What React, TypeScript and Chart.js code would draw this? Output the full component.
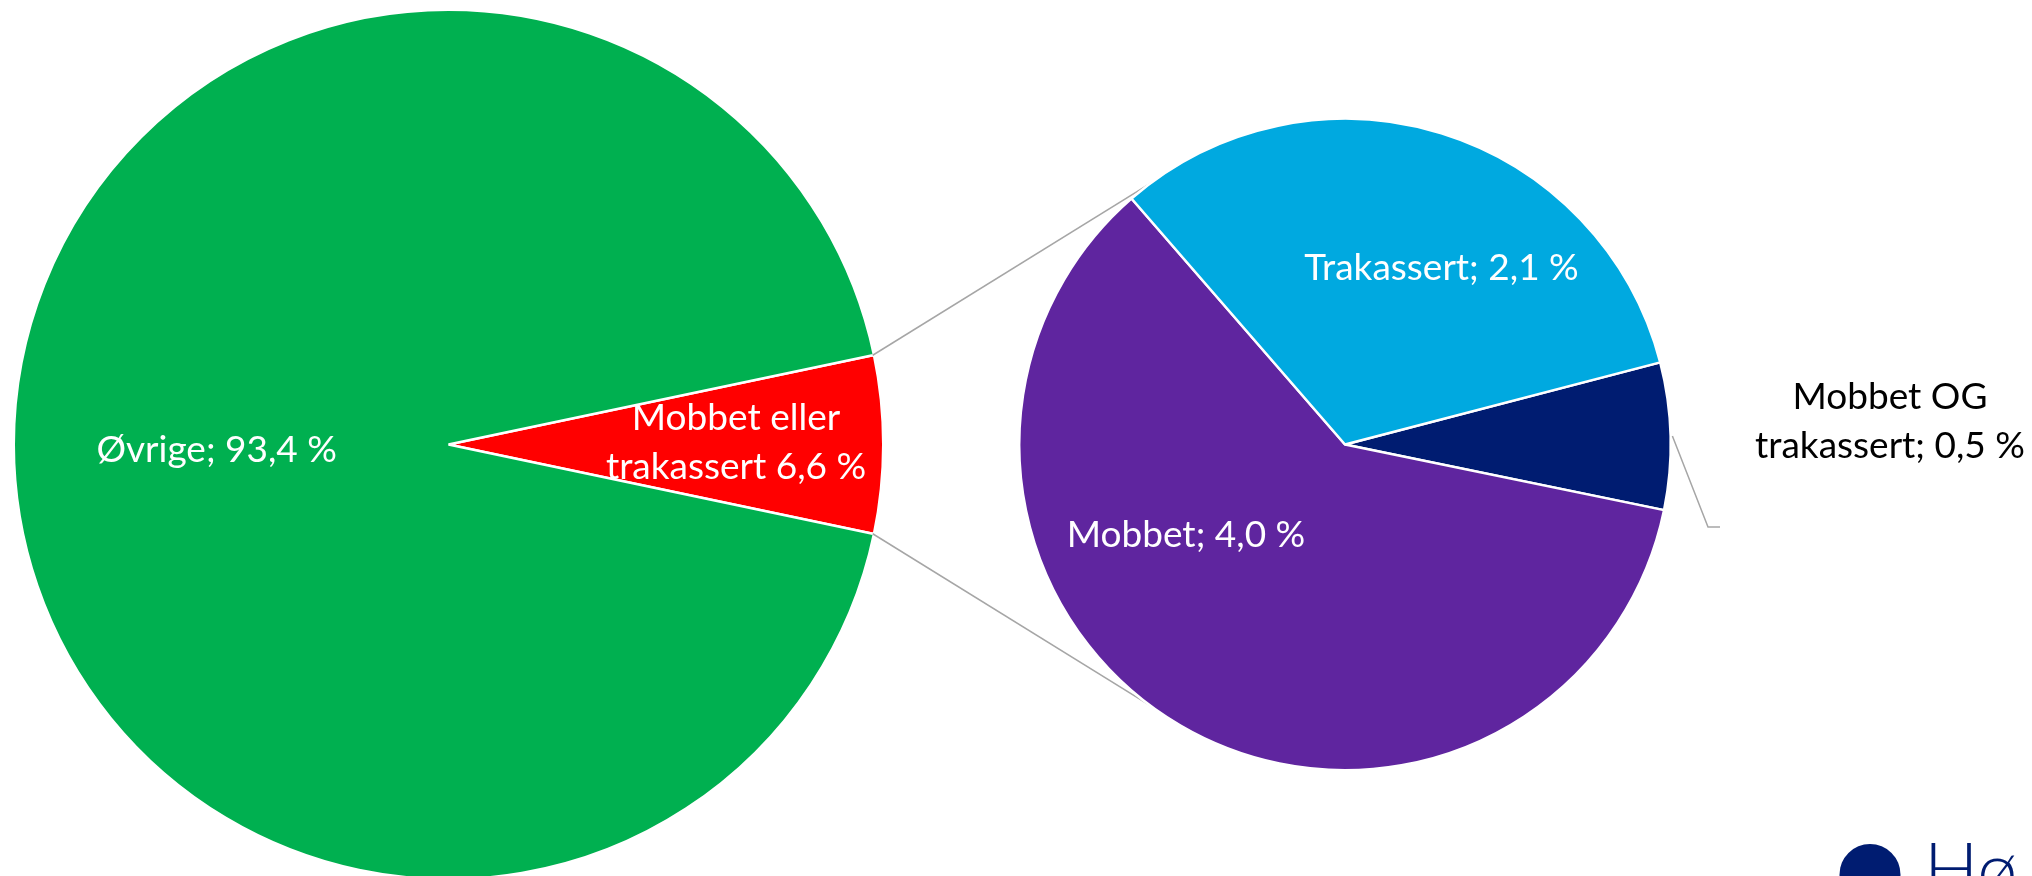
import React, { useEffect, useRef } from 'react';
import { Chart, registerables } from 'chart.js';

Chart.register(...registerables);

// ---- Data ----
const mainCategories = ['Mobbet eller trakassert', 'Øvrige'];
const mainValues = [6.6, 93.4];
const mainColors = ['#FF0000', '#00B050'];

const splitCategories = ['Mobbet OG trakassert', 'Mobbet', 'Trakassert'];
const splitValues = [0.48, 3.98, 2.13];
const splitColors = ['#001C71', '#5F259F', '#00A9E0'];

const fmt = (v: number) => v.toFixed(1).replace('.', ',') + ' %';

const mainLabelLines = [
  ['Mobbet eller', 'trakassert ' + fmt(mainValues[0])],
  [mainCategories[1] + '; ' + fmt(mainValues[1])],
];
const splitLabelLines = [
  ['Mobbet OG', 'trakassert; ' + fmt(splitValues[0])],
  [splitCategories[1] + '; ' + fmt(splitValues[1])],
  [splitCategories[2] + '; ' + fmt(splitValues[2])],
];

// ---- Layout (label anchors relative to pie centre: centre x, first baseline) ----
const mainLabelPos = [
  { dx: 287.5, dy: -14.5, color: '#FFFFFF' },
  { dx: -231.8, dy: 17.2, color: '#FFFFFF' },
];
const splitLabelPos = [
  { dx: 545, dy: -35.5, color: '#000000' },
  { dx: -159, dy: 102.5, color: '#FFFFFF' },
  { dx: 96.5, dy: -164.5, color: '#FFFFFF' },
];
const LINE_H = 48.5;
const FONT = '37px Lato';
const LEADER = [{ dx: 363, dy: 82.5 }, { dx: 375, dy: 82.5 }];

const W = 2032;
const H = 876;

function labelPlugin(lines: string[][], pos: any[], id: string) {
  return {
    id,
    afterDatasetsDraw(chart: any) {
      const meta = chart.getDatasetMeta(0);
      const ctx = chart.ctx;
      ctx.save();
      ctx.font = FONT;
      ctx.textAlign = 'center';
      ctx.textBaseline = 'alphabetic';
      meta.data.forEach((arc: any, i: number) => {
        const p = pos[i];
        ctx.fillStyle = p.color;
        lines[i].forEach((t, k) => {
          ctx.fillText(t, arc.x + p.dx, arc.y + p.dy + k * LINE_H);
        });
      });
      ctx.restore();
    },
  };
}

export default function App() {
  const c1 = useRef<HTMLCanvasElement>(null);
  const c2 = useRef<HTMLCanvasElement>(null);

  useEffect(() => {
    const mainSum = mainValues.reduce((a, b) => a + b, 0);
    const R1 = 433.5;
    const R2 = 324.5;
    const BW = 2.5;

    const ch1 = new Chart(c1.current as HTMLCanvasElement, {
      type: 'pie',
      data: {
        labels: mainCategories,
        datasets: [
          {
            data: mainValues,
            backgroundColor: mainColors,
            borderColor: '#FFFFFF',
            borderWidth: BW,
          },
        ],
      },
      options: {
        responsive: false,
        animation: false,
        events: [],
        radius: R1 + BW / 2,
        rotation: 90 - ((mainValues[0] / mainSum) * 360) / 2,
        layout: { padding: { left: 0, right: 1135, top: 13, bottom: 0 } },
        plugins: { legend: { display: false }, tooltip: { enabled: false } },
      } as any,
      plugins: [labelPlugin(mainLabelLines, mainLabelPos, 'mainLabels')],
    });

    const connectorPlugin = {
      id: 'connectors',
      beforeDatasetsDraw(chart: any) {
        const ctx = chart.ctx;
        const src: any = ch1.getDatasetMeta(0).data[0];
        const tgt: any = chart.getDatasetMeta(0).data[0];
        if (!src || !tgt) return;
        const Rs = R1;
        const Rt = R2;
        const ends = [src.startAngle, src.endAngle];
        ctx.save();
        ctx.strokeStyle = '#A6A6A6';
        ctx.lineWidth = 1.5;
        ends.forEach((a: number, idx: number) => {
          const px = src.x + Rs * Math.cos(a);
          const py = src.y + Rs * Math.sin(a);
          const d = Math.hypot(px - tgt.x, py - tgt.y);
          const th = Math.atan2(py - tgt.y, px - tgt.x);
          const al = Math.acos(Rt / d);
          const cand = [th + al, th - al].map((b) => ({
            x: tgt.x + Rt * Math.cos(b),
            y: tgt.y + Rt * Math.sin(b),
          }));
          cand.sort((m, n) => m.y - n.y);
          const q = idx === 0 ? cand[0] : cand[1];
          ctx.beginPath();
          ctx.moveTo(px, py);
          ctx.lineTo(q.x, q.y);
          ctx.stroke();
        });
        ctx.restore();
      },
      afterDatasetsDraw(chart: any) {
        const ctx = chart.ctx;
        const og: any = chart.getDatasetMeta(0).data[0];
        if (!og) return;
        const mid = (og.startAngle + og.endAngle) / 2;
        ctx.save();
        ctx.strokeStyle = '#A6A6A6';
        ctx.lineWidth = 1.5;
        ctx.beginPath();
        ctx.moveTo(og.x + (R2 + 3) * Math.cos(mid), og.y + (R2 + 3) * Math.sin(mid));
        LEADER.forEach((p) => ctx.lineTo(og.x + p.dx, og.y + p.dy));
        ctx.stroke();
        // logo
        ctx.fillStyle = '#001C71';
        ctx.beginPath();
        ctx.arc(1870, 874.5, 30.5, 0, Math.PI * 2);
        ctx.fill();
        ctx.font = '300 72px Lato';
        ctx.textAlign = 'left';
        ctx.textBaseline = 'alphabetic';
        ctx.fillText('Hø', 1924, 895);
        ctx.restore();
      },
    };

    const ch2 = new Chart(c2.current as HTMLCanvasElement, {
      type: 'pie',
      data: {
        labels: splitCategories,
        datasets: [
          {
            data: splitValues,
            backgroundColor: splitColors,
            borderColor: '#FFFFFF',
            borderWidth: BW,
          },
        ],
      },
      options: {
        responsive: false,
        animation: false,
        events: [],
        radius: R2 + BW / 2,
        rotation: 75.4,
        layout: { padding: { left: 658, right: 0, top: 13, bottom: 0 } },
        plugins: { legend: { display: false }, tooltip: { enabled: false } },
      } as any,
      plugins: [connectorPlugin, labelPlugin(splitLabelLines, splitLabelPos, 'splitLabels')],
    });

    return () => {
      ch2.destroy();
      ch1.destroy();
    };
  }, []);

  return (
    <div
      style={{
        position: 'fixed',
        left: 0,
        top: 0,
        width: W,
        height: H,
        background: '#FFFFFF',
        overflow: 'hidden',
      }}
    >
      <canvas ref={c1} width={W} height={H} style={{ position: 'absolute', left: 0, top: 0 }} />
      <canvas ref={c2} width={W} height={H} style={{ position: 'absolute', left: 0, top: 0 }} />
    </div>
  );
}
